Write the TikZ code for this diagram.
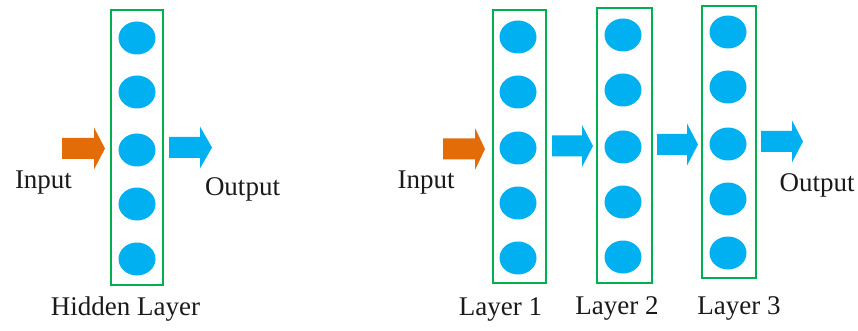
\documentclass[tikz,border=0pt]{standalone}
\usepackage{fontspec}
\setmainfont{Liberation Serif}
\usetikzlibrary{shapes.geometric}
\definecolor{nblue}{HTML}{00B0F0}
\definecolor{norange}{HTML}{E36C09}
\definecolor{ngreen}{HTML}{00B050}
\definecolor{ntext}{HTML}{1A1A1A}
\newcommand\blkarrow[6]{% color, x1, xhead, x2, yc, label
  \fill[#1] (#2,#5-10.5) -- (#3,#5-10.5) -- (#3,#5-21) -- (#4,#5) -- (#3,#5+21) -- (#3,#5+10.5) -- (#2,#5+10.5) -- cycle;
  \coordinate (#6) at (#2,#5);}
\begin{document}
\begin{tikzpicture}[x=1pt,y=-1pt,
  neuron/.style={ellipse,fill=nblue,minimum width=37pt,minimum height=33pt,inner sep=0pt},
  layerbox/.style={draw=ngreen,line width=1.6pt},
  lbl/.style={text=ntext,font=\fontsize{27}{29}\selectfont,inner sep=0pt}]
\useasboundingbox (0,0) rectangle (858,331);
% left panel
\draw[layerbox] (111,10) rectangle (163,285);
\foreach \y [count=\i] in {38,92,150,204,259} \node[neuron] (h\i) at (137,\y) {};
\blkarrow{norange}{62}{94}{105}{148.5}{ain}
\blkarrow{nblue}{169}{200}{212}{147.5}{aout}
\node[lbl] (in1) at (43.5,183) {Input};
\node[lbl] (out1) at (242.5,189) {Output};
\node[lbl] (hl) at (125.5,309) {Hidden Layer};
% right panel
\draw[layerbox] (493,10) rectangle (546,283);
\draw[layerbox] (597,8) rectangle (652,283);
\draw[layerbox] (702,6) rectangle (756,278);
\foreach \y [count=\i] in {37,92,148,203,258} \node[neuron] (a\i) at (518,\y) {};
\foreach \y [count=\i] in {35,90,147,202,257} \node[neuron] (b\i) at (623,\y) {};
\foreach \y [count=\i] in {32,87,144,199,253} \node[neuron] (c\i) at (728,\y) {};
\blkarrow{norange}{443}{475}{485}{149}{rin}
\blkarrow{nblue}{552}{582}{593}{146}{r1}
\blkarrow{nblue}{657}{687}{698}{144.5}{r2}
\blkarrow{nblue}{761}{792}{803}{141.5}{r3}
\node[lbl] (in2) at (426,183) {Input};
\node[lbl] (out2) at (817,185) {Output};
\node[lbl] (l1) at (500.5,309) {Layer 1};
\node[lbl] (l2) at (617,308) {Layer 2};
\node[lbl] (l3) at (739,308) {Layer 3};
\end{tikzpicture}
\end{document}
